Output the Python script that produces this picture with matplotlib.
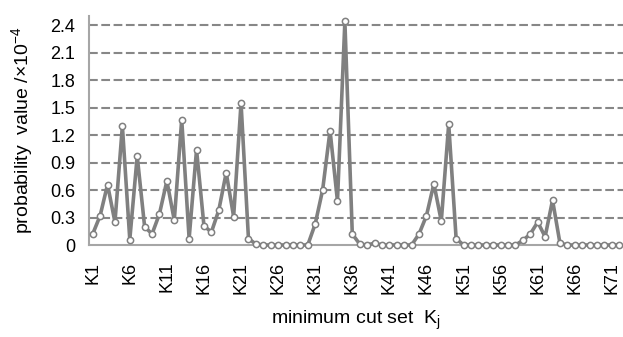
import matplotlib
matplotlib.use("Agg")
import matplotlib.pyplot as plt
import numpy as np

plt.rcParams['font.family'] = ['Liberation Sans', 'DejaVu Sans']
plt.rcParams['mathtext.fontset'] = 'custom'
plt.rcParams['mathtext.rm'] = 'Liberation Sans'
plt.rcParams['mathtext.it'] = 'Liberation Sans:italic'

# data
cut_sets = [f"K{i}" for i in range(1, 73)]
prob_values = [
    0.12, 0.32, 0.66, 0.25, 1.30, 0.06, 0.97, 0.20, 0.12, 0.34,
    0.70, 0.27, 1.37, 0.07, 1.04, 0.21, 0.14, 0.38, 0.79, 0.31,
    1.55, 0.07, 0.01, 0.0, 0.0, 0.0, 0.0, 0.0, 0.0, 0.0,
    0.23, 0.60, 1.25, 0.48, 2.44, 0.12, 0.01, 0.0, 0.02, 0.0,
    0.0, 0.0, 0.0, 0.0, 0.12, 0.32, 0.67, 0.26, 1.32, 0.07,
    0.0, 0.0, 0.0, 0.0, 0.0, 0.0, 0.0, 0.0, 0.05, 0.12,
    0.25, 0.09, 0.49, 0.02, 0.0, 0.0, 0.0, 0.0, 0.0, 0.0,
    0.0, 0.0,
]
y_ticks = [0, 0.3, 0.6, 0.9, 1.2, 1.5, 1.8, 2.1, 2.4]
y_tick_labels = ["0", "0.3", "0.6", "0.9", "1.2", "1.5", "1.8", "2.1", "2.4"]

fig = plt.figure(figsize=(6.23, 3.37), dpi=100)
ax = fig.add_axes([89/623, 92/337, (623-89)/623, 229/337])

x = np.arange(1, len(prob_values) + 1)
ax.plot(x, prob_values, color='#808080', lw=2.6, marker='o', markersize=4.5,
        markerfacecolor='white', markeredgecolor='#808080', markeredgewidth=1.1,
        zorder=3, clip_on=False)

ax.set_xlim(0.5, len(prob_values) + 0.5)
ax.set_ylim(0, 2.5)
ax.set_yticks(y_ticks)
ax.set_yticklabels(y_tick_labels)
ax.set_xticks(x[::5])
ax.set_xticklabels(cut_sets[::5], rotation=90, va='top', ha='center')

for yv in y_ticks[1:]:
    ax.axhline(yv, color='#878787', lw=1.5, ls=(0, (4.2, 1.7)), zorder=1)

for side in ['top', 'right']:
    ax.spines[side].set_visible(False)
for side in ['left', 'bottom']:
    ax.spines[side].set_color('#A6A6A6')
    ax.spines[side].set_linewidth(1.5)

ax.tick_params(axis='x', length=0, pad=12, labelsize=13, colors='black')
ax.tick_params(axis='y', length=0, pad=10, labelsize=13, colors='black')

ax.set_ylabel(r'probability  value /×10$^{-4}$', fontsize=14)
ax.set_xlabel(r'minimum cut set  K$_{\mathrm{j}}$', fontsize=14)
ax.yaxis.label.set_va('center')
ax.xaxis.label.set_va('center')
ax.yaxis.set_label_coords(-0.1255, 0.5)
ax.xaxis.set_label_coords(0.5, -0.3275)

fig.savefig('out.png', dpi=100)
